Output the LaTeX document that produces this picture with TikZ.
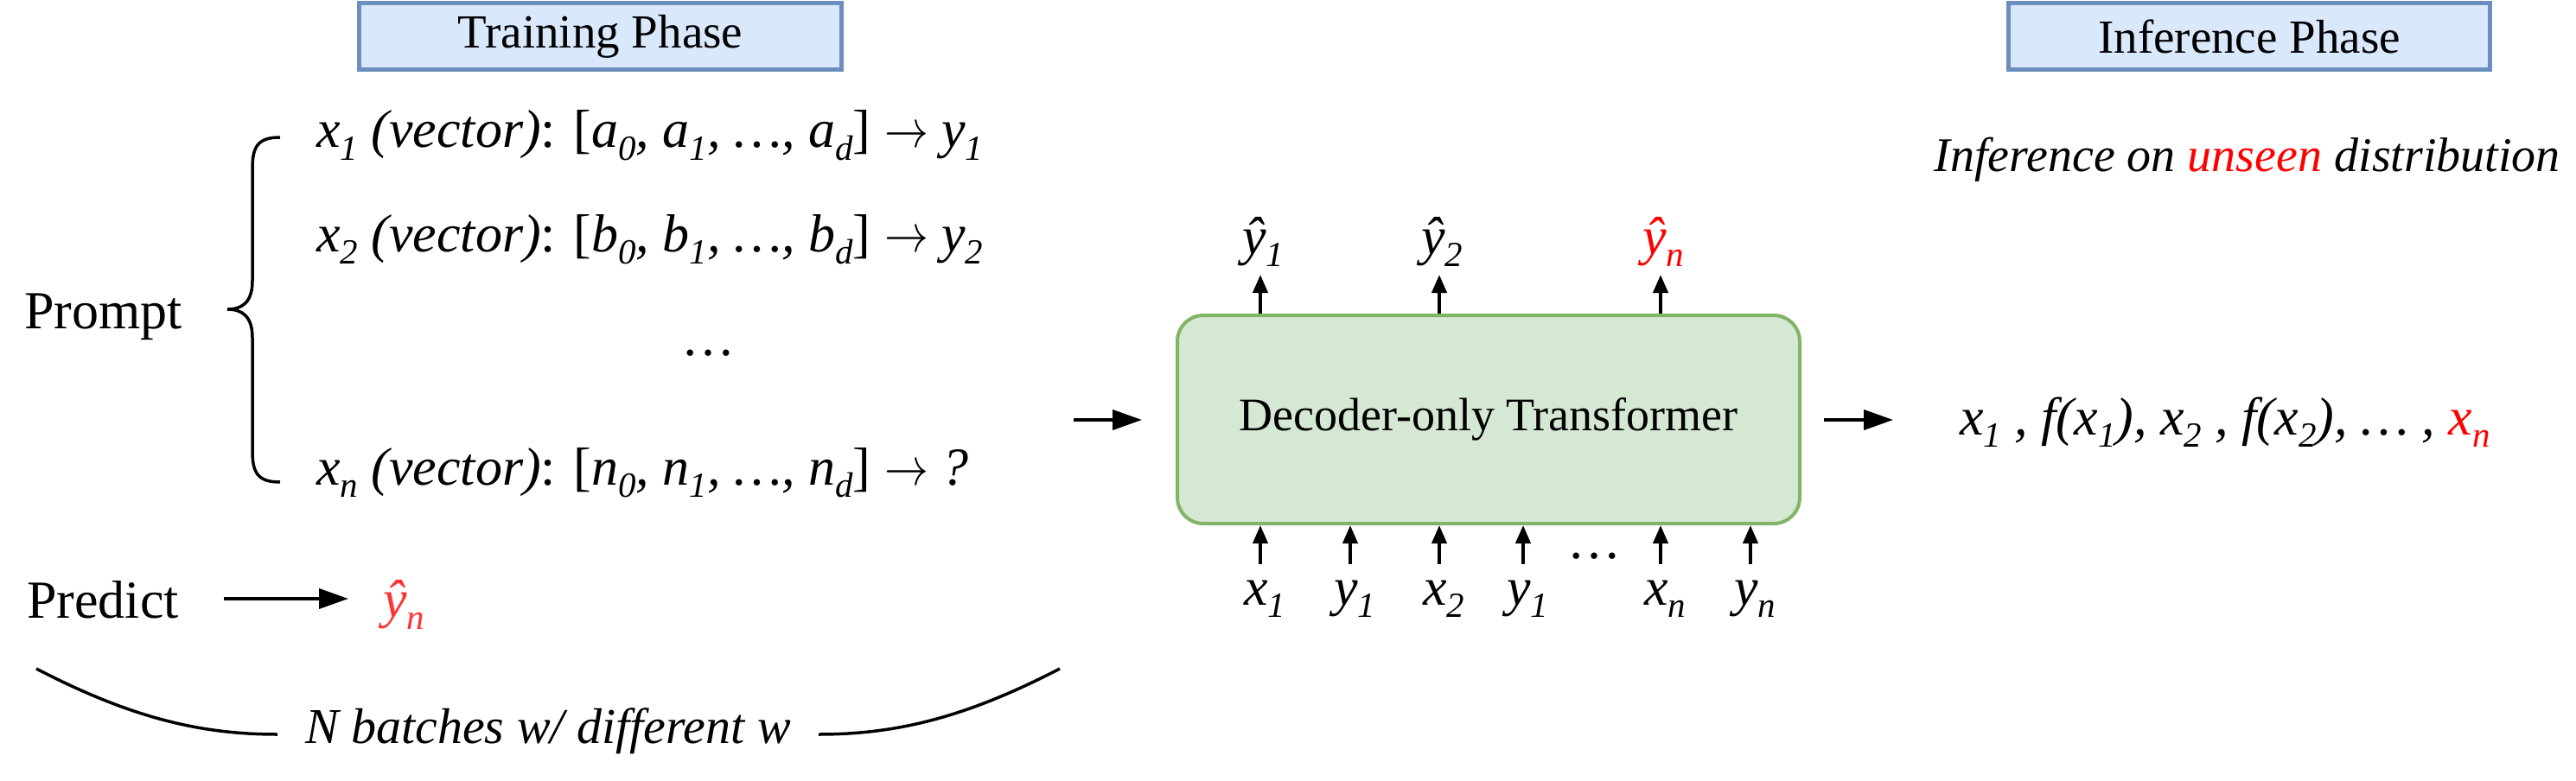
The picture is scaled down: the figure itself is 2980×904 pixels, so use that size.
\RequirePackage{fix-cm}
\documentclass[tikz,border=0pt]{standalone}
\usepackage{fontspec}
\setmainfont{Liberation Serif}
\usetikzlibrary{arrows.meta}
\definecolor{phasefill}{HTML}{DAE8FC}
\definecolor{phasedraw}{HTML}{6C8EBF}
\definecolor{tffill}{HTML}{D5E8D4}
\definecolor{tfdraw}{HTML}{82B366}
\definecolor{hl}{HTML}{FF0000}
\definecolor{hlsoft}{HTML}{FF3333}
\newcommand{\sz}[1]{\fontsize{#1}{#1}\selectfont}
\newcommand{\lo}[1]{\raisebox{-0.24em}{\scalebox{0.66}{#1}}}
\newcommand{\arrowto}{\scalebox{0.82}[1]{$\rightarrow$}}
\begin{document}
\begin{tikzpicture}[x=1pt,y=-1pt,
  phase/.style={draw=phasedraw,fill=phasefill,line width=5pt,inner sep=0pt,font=\sz{55}},
  tfbox/.style={draw=tfdraw,fill=tffill,line width=4pt,rounded corners=30pt,inner sep=0pt,font=\sz{54}},
  txt/.style={inner sep=0pt,font=\sz{62}},
  itxt/.style={inner sep=0pt,font=\sz{62}\itshape},
  arr/.style={line width=4pt,-{Triangle[length=34pt,width=23pt]}},
  uarr/.style={line width=4pt,-{Triangle[length=21pt,width=17pt]}},
  curve/.style={line width=3.5pt}]
\useasboundingbox (0,0) rectangle (2980,904);
% phase headers
\node[phase,minimum width=558pt,minimum height=77pt] (train) at (694.5,42) {Training Phase};
\node[phase,minimum width=557pt,minimum height=77pt] (infer) at (2602,42) {Inference Phase};
% prompt block
\node[txt,anchor=base west] (prompt) at (28,380) {Prompt};
\node[itxt,anchor=base west] (l1) at (366,171) {x\lo{1} (vector)\upshape: [\itshape a\lo{0}, a\lo{1}, …, a\lo{d}\upshape] \arrowto{} \itshape y\lo{1}};
\node[itxt,anchor=base west] (l2) at (366,291) {x\lo{2} (vector)\upshape: [\itshape b\lo{0}, b\lo{1}, …, b\lo{d}\upshape] \arrowto{} \itshape y\lo{2}};
\node[txt,anchor=base] (ldots) at (819,411) {…};
\node[itxt,anchor=base west] (ln) at (366,561) {x\lo{n} (vector)\upshape: [\itshape n\lo{0}, n\lo{1}, …, n\lo{d}\upshape] \arrowto{} \itshape ?};
\coordinate (brT) at (324,159);
\coordinate (brM) at (263,358);
\coordinate (brB) at (324,558);
\draw[line width=3.5pt] (brT) .. controls (298,159) and (292,170) .. (292,195) -- (292,325) .. controls (292,350) and (280,358) .. (brM) .. controls (280,358) and (292,366) .. (292,391) -- (292,522) .. controls (292,547) and (298,558) .. (brB);
% predict
\node[txt,anchor=base west] (predict) at (31,715) {Predict};
\node[itxt,text=hlsoft,anchor=base west] (yhn) at (443,714) {ŷ\lo{n}};
\coordinate (pa) at (259,693);
\coordinate (pb) at (403,693);
\draw[arr] (pa) -- (pb);
% batches
\node[itxt,font=\sz{58}\itshape,anchor=base] (batch) at (634,860) {N batches w/ different w};
\coordinate (cl) at (42,774);
\coordinate (clf) at (321,850);
\coordinate (crf) at (947,850);
\coordinate (cr) at (1226,774);
\draw[curve] (cl) .. controls (150,830) and (230,850) .. (clf);
\draw[curve] (crf) .. controls (1038,850) and (1118,830) .. (cr);
% transformer
\node[tfbox,minimum width=720pt,minimum height=241pt] (tf) at (1722,485.5) {Decoder-only Transformer};
\coordinate (inL) at (1242,486);
\coordinate (inR) at (1321,486);
\draw[arr] (inL) -- (inR);
\coordinate (outL) at (2110,486);
\coordinate (outR) at (2190,486);
\draw[arr] (outL) -- (outR);
% outputs
\foreach \nm/\x/\lab/\col in {o1/1458/{ŷ\lo{1}}/black, o2/1665/{ŷ\lo{2}}/black, o3/1921/{ŷ\lo{n}}/hl} {
  \node[itxt,text=\col,anchor=base] (\nm) at (\x+3,294) {\lab};
  \coordinate (\nm t) at (\x,318);
  \draw[uarr] (tf.north -| \nm t) -- (\nm t);
}
% inputs
\foreach \nm/\x/\lab in {i1/1458/{x\lo{1}}, i2/1562/{y\lo{1}}, i3/1665/{x\lo{2}}, i4/1762/{y\lo{1}}, i5/1921/{x\lo{n}}, i6/2025/{y\lo{n}}} {
  \node[itxt,anchor=base] (\nm) at (\x+5,700) {\lab};
  \coordinate (\nm b) at (\x,653);
  \draw[uarr] (\nm b) -- (tf.south -| \nm b);
}
\node[txt,anchor=base] (idots) at (1844,646) {…};
% inference side
\node[itxt,font=\sz{56}\itshape,anchor=base east] (unseen) at (2962,199) {Inference on \textcolor{hl}{unseen} distribution};
\node[itxt,anchor=base west] (seq) at (2267,503) {x\lo{1} , f(x\lo{1}), x\lo{2} , f(x\lo{2}), … , \textcolor{hl}{x\lo{n}}};
\end{tikzpicture}
\end{document}
